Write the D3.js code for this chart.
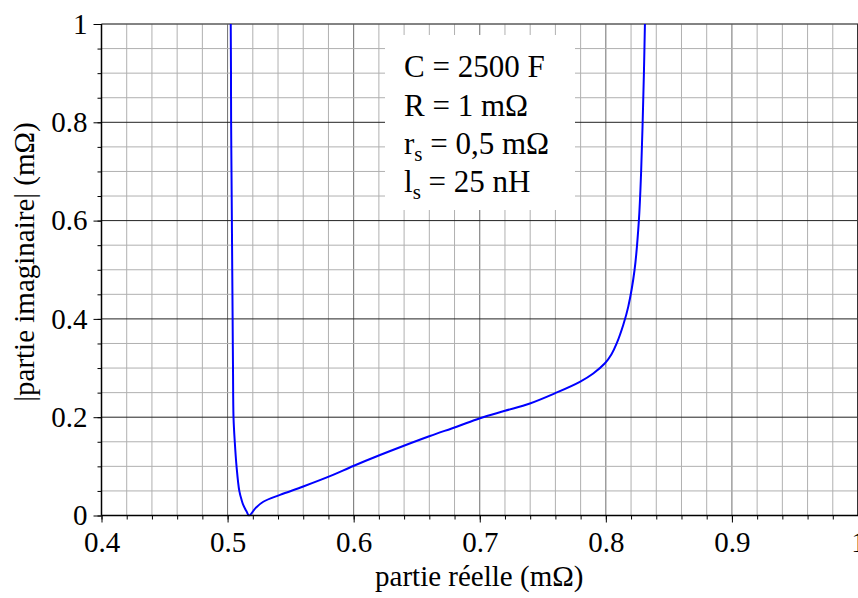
<!DOCTYPE html>
<html>
<head>
<meta charset="utf-8">
<script src="https://cdn.jsdelivr.net/npm/d3@7"></script>
<style>
  html, body { margin: 0; padding: 0; background: #fff; }
  svg { display: block; }
  svg text { font-family: "Liberation Serif", "Times New Roman", serif !important; fill: #000; }
</style>
</head>
<body>
<svg id="chart" width="858" height="598"></svg>
<script>
// ---- data ----
const partieReelle = [
  0.5025, 0.5027, 0.5028, 0.5031, 0.5034, 0.5037, 0.5040, 0.5043, 0.5047, 0.5057,
  0.5071, 0.5093, 0.5113, 0.5125, 0.5151, 0.5170, 0.5225, 0.5283, 0.5416, 0.5600,
  0.5812, 0.5997, 0.6209, 0.6393, 0.6605, 0.6817, 0.7002, 0.7200, 0.7398, 0.7596,
  0.7794, 0.7900, 0.7993, 0.8045, 0.8086, 0.8138, 0.8178, 0.8228, 0.8262, 0.8280,
  0.8292, 0.8302, 0.8310
];
const partieImaginaire = [
  1.000, 0.900, 0.800, 0.700, 0.600, 0.500, 0.400, 0.300, 0.200, 0.150,
  0.100, 0.050, 0.030, 0.021, 0.008, 0.000, 0.016, 0.028, 0.042, 0.059,
  0.080, 0.1007, 0.123, 0.1414, 0.1617, 0.1807, 0.198, 0.213, 0.228, 0.2486,
  0.272, 0.289, 0.3097, 0.328, 0.350, 0.3876, 0.425, 0.500, 0.600, 0.700,
  0.800, 0.900, 1.000
];
const xTicks = [0.4, 0.5, 0.6, 0.7, 0.8, 0.9, 1];
const xTickLabels = ["0.4", "0.5", "0.6", "0.7", "0.8", "0.9", "1"];
const yTicks = [0, 0.2, 0.4, 0.6, 0.8, 1];
const yTickLabels = ["0", "0.2", "0.4", "0.6", "0.8", "1"];
const legendLines = [
  { main: "C = 2500 F", sub: null, rest: null },
  { main: "R = 1 m\u03A9", sub: null, rest: null },
  { main: "r", sub: "s", rest: " = 0,5 m\u03A9" },
  { main: "l", sub: "s", rest: " = 25 nH" }
];
const xTitle = "partie r\u00E9elle (m\u03A9)";
const yTitle = "|partie imaginaire| (m\u03A9)";

// ---- layout ----
const svg = d3.select("#chart");
const pL = 101.5, pR = 858, pT = 24, pB = 515.5;
const FONT = "'Liberation Serif', 'Times New Roman', serif";

const x = d3.scaleLinear().domain([0.4, 1]).range([pL, pR]);
const y = d3.scaleLinear().domain([0, 1]).range([pB, pT]);

const xMinor = d3.range(0, 31).map(i => 0.4 + i * 0.02);
const yMinor = d3.range(0, 21).map(i => i * 0.05);

// grid
const grid = svg.append("g");
grid.selectAll("line.xminor").data(xMinor).enter().append("line")
  .attr("x1", d => x(d)).attr("x2", d => x(d))
  .attr("y1", pT).attr("y2", pB)
  .attr("stroke", d => (Math.abs(Math.round(d * 10) - d * 10) < 1e-6) ? "#6e6e6e" : "#b0b0b0")
  .attr("stroke-width", 1);
grid.selectAll("line.yminor").data(yMinor).enter().append("line")
  .attr("y1", d => y(d)).attr("y2", d => y(d))
  .attr("x1", pL).attr("x2", pR)
  .attr("stroke", d => (Math.abs(Math.round(d * 5) - d * 5) < 1e-6) ? "#222" : "#b0b0b0")
  .attr("stroke-width", 1);
// top / right borders
svg.append("line").attr("x1", pL).attr("x2", pR).attr("y1", pT).attr("y2", pT)
  .attr("stroke", "#777").attr("stroke-width", 1);
svg.append("line").attr("x1", pR - 0.5).attr("x2", pR - 0.5).attr("y1", pT).attr("y2", pB)
  .attr("stroke", "#333").attr("stroke-width", 1);

// legend box (white, covers grid)
const lg = svg.append("g");
lg.append("rect").attr("x", 385).attr("y", 35).attr("width", 190).attr("height", 175).attr("fill", "#fff");
const baselines = [77, 116, 154, 192];
legendLines.forEach((l, i) => {
  const t = lg.append("text").attr("x", 404).attr("y", baselines[i])
    .attr("font-size", 31).attr("font-family", FONT);
  t.append("tspan").text(l.main);
  if (l.sub) {
    t.append("tspan").attr("font-size", 21).attr("dy", 7).text(l.sub);
    t.append("tspan").attr("dy", -7).text(l.rest);
  }
});

// curve
const pts = partieReelle.map((v, i) => [v, partieImaginaire[i]]);
svg.append("clipPath").attr("id", "clip").append("rect")
  .attr("x", pL).attr("y", pT - 1).attr("width", pR - pL).attr("height", pB - pT + 2);
svg.append("path")
  .datum(pts)
  .attr("clip-path", "url(#clip)")
  .attr("fill", "none")
  .attr("stroke", "#0000ff")
  .attr("stroke-width", 2)
  .attr("stroke-linejoin", "round")
  .attr("d", d3.line().x(d => x(d[0])).y(d => y(d[1])).curve(d3.curveCatmullRom.alpha(0.5)));

// axes
const xAxis = svg.append("g").attr("transform", `translate(0,${pB})`);
xAxis.call(d3.axisBottom(x).tickValues(xMinor).tickSize(4).tickFormat(""));
xAxis.selectAll("path.domain").remove();
const xAxisMajor = svg.append("g").attr("transform", `translate(0,${pB})`);
xAxisMajor.call(d3.axisBottom(x).tickValues(xTicks).tickSize(7).tickPadding(9)
  .tickFormat((d, i) => xTickLabels[i]));
xAxisMajor.attr("font-family", FONT).attr("font-size", 29);
xAxisMajor.select("path.domain").remove();
xAxisMajor.selectAll("text").attr("fill", "#000").style("font-family", FONT);
svg.append("line").attr("x1", pL).attr("x2", pR).attr("y1", pB).attr("y2", pB)
  .attr("stroke", "#000").attr("stroke-width", 1.5);

const yAxis = svg.append("g").attr("transform", `translate(${pL},0)`);
yAxis.call(d3.axisLeft(y).tickValues(yMinor).tickSize(4).tickFormat(""));
yAxis.select("path.domain").remove();
const yAxisMajor = svg.append("g").attr("transform", `translate(${pL},0)`);
yAxisMajor.call(d3.axisLeft(y).tickValues(yTicks).tickSize(8).tickPadding(6)
  .tickFormat((d, i) => yTickLabels[i]));
yAxisMajor.attr("font-family", FONT).attr("font-size", 29);
yAxisMajor.select("path.domain").remove();
yAxisMajor.selectAll("text").attr("fill", "#000").style("font-family", FONT);
svg.selectAll(".tick line").attr("stroke", "#000");
svg.append("line").attr("x1", pL).attr("x2", pL).attr("y1", pT).attr("y2", pB)
  .attr("stroke", "#000").attr("stroke-width", 1.5);

// titles
svg.append("text").attr("x", (pL + pR) / 2 - 0.5).attr("y", 586)
  .attr("text-anchor", "middle").attr("font-size", 29).attr("font-family", FONT).text(xTitle);
svg.append("text").attr("transform", `translate(34,262) rotate(-90)`)
  .attr("text-anchor", "middle").attr("font-size", 29).attr("font-family", FONT).text(yTitle);
</script>
</body>
</html>
